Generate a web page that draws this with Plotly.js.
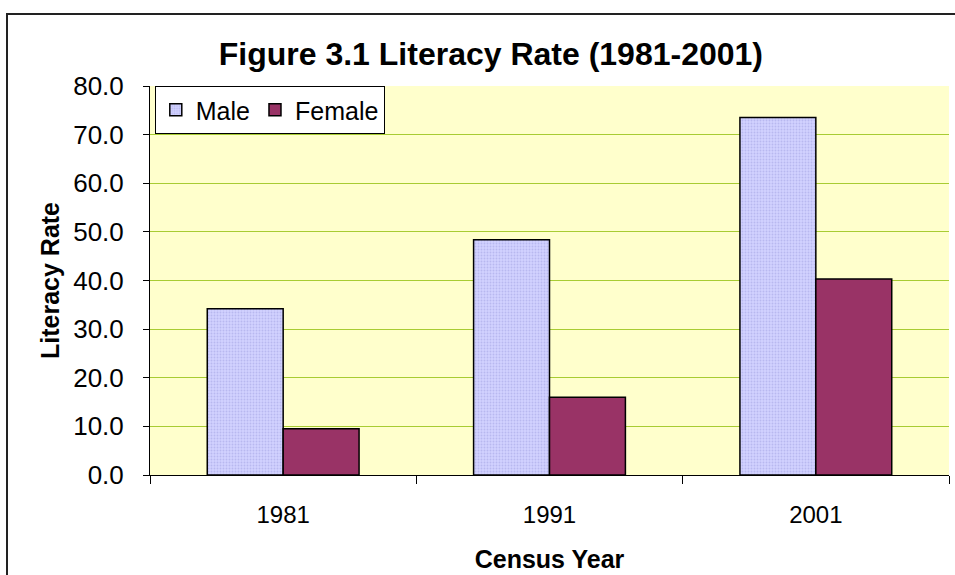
<html lang="en">
  <head>
    <meta charset="UTF-8" />
    <title>Literacy Rate</title>
    <script src="https://cdn.plot.ly/plotly-3.0.1.min.js"></script>
    <style>
      body { margin: 0; background: #fff; }
      #frame { position: absolute; left: 6px; top: 13px; width: 1000px; height: 700px; border: 2px solid #222; box-sizing: border-box; }
      #chart { position: absolute; left: 0; top: 0; width: 955px; height: 575px; }
    </style>
  </head>
  <body>
    <div id="frame"></div>
    <div id="chart"></div>
    <script>
      // census years and literacy rates (%)
      const years = ['1981', '1991', '2001'];
      const male = [34.2, 48.4, 73.5];
      const female = [9.5, 16.0, 40.3];
      const yTicks = [0, 10, 20, 30, 40, 50, 60, 70, 80];

      const maleTrace = {
          x: years,
          y: male,
          type: 'bar',
          name: 'Male',
          marker: {
              color: '#ccccff',
              line: { color: '#000', width: 1.5 },
              pattern: { shape: '.', size: 3, solidity: 0.3, fgcolor: '#b8b8f0', bgcolor: '#d2d2ff' }
          }
      };

      const femaleTrace = {
          x: years,
          y: female,
          type: 'bar',
          name: 'Female',
          marker: { color: '#993366', line: { color: '#000', width: 1.5 } }
      };

      const layout = {
          width: 955,
          height: 575,
          margin: { l: 150, r: 6, t: 86, b: 100 },
          paper_bgcolor: 'rgba(0,0,0,0)',
          plot_bgcolor: '#ffffcc',
          font: { family: 'Arial, Liberation Sans, sans-serif', color: '#000', size: 24 },
          title: {
              text: '<b>Figure 3.1 Literacy Rate (1981-2001)</b>',
              font: { size: 32 },
              x: 0.514, xanchor: 'center',
              y: 0.906, yanchor: 'middle', yref: 'container'
          },
          bargap: 0.43,
          bargroupgap: 0,
          showlegend: true,
          legend: {
              x: 0.006, y: 1, xanchor: 'left', yanchor: 'top',
              orientation: 'h',
              bgcolor: '#fff',
              bordercolor: '#000',
              borderwidth: 1,
              font: { size: 25 },
              itemwidth: 30
          },
          xaxis: {
              type: 'category',
              tickson: 'boundaries',
              ticks: 'outside',
              ticklen: 8,
              tickcolor: '#000',
              showline: true,
              linecolor: '#000',
              linewidth: 1,
              ticklabelstandoff: 18,
              title: { text: '<b>Census Year</b>', font: { size: 25 }, standoff: 23 }
          },
          yaxis: {
              range: [0, 80],
              tickvals: yTicks,
              ticktext: yTicks.map(v => v.toFixed(1)),
              tickfont: { size: 26 },
              ticks: 'outside',
              ticklen: 6,
              tickcolor: '#000',
              showline: true,
              linecolor: '#000',
              linewidth: 1,
              gridcolor: '#a8cc33',
              gridwidth: 1,
              zeroline: false,
              ticklabelstandoff: 14,
              title: { text: '<b>Literacy Rate</b>', font: { size: 25 }, standoff: 6 }
          }
      };

      Plotly.newPlot('chart', [maleTrace, femaleTrace], layout, { displayModeBar: false });
    </script>
  </body>
</html>
